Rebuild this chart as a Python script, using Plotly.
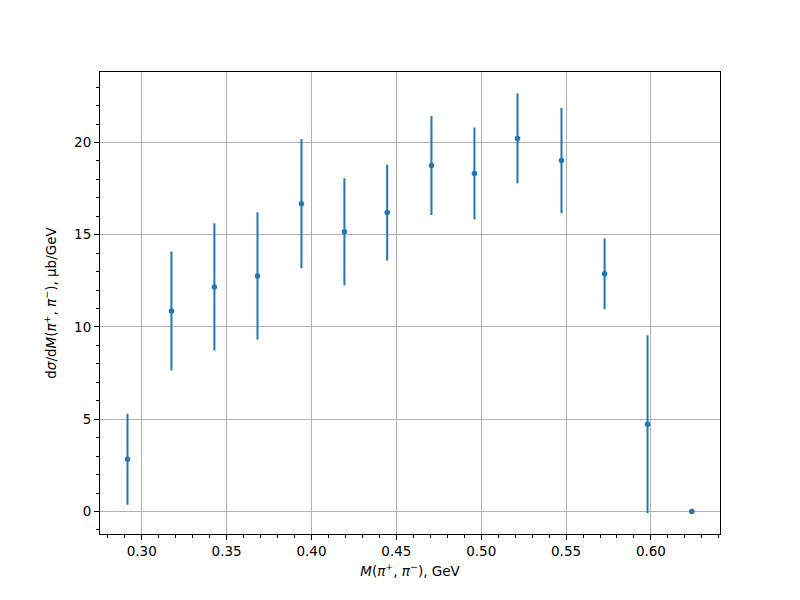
import plotly.graph_objects as go

mass = [0.2916, 0.3175, 0.3428, 0.3682, 0.3941, 0.4194, 0.4446,
        0.4707, 0.4960, 0.5214, 0.5473, 0.5727, 0.5980, 0.6241]
xsec = [2.83, 10.87, 12.17, 12.77, 16.68, 15.16, 16.20,
        18.75, 18.32, 20.22, 19.02, 12.88, 4.73, 0.0]
err = [2.47, 3.22, 3.45, 3.45, 3.50, 2.90, 2.60,
       2.68, 2.49, 2.44, 2.85, 1.92, 4.82, 0.0]

x_ticks = [0.30, 0.35, 0.40, 0.45, 0.50, 0.55, 0.60]
y_ticks = [0, 5, 10, 15, 20]

color = "#1f77b4"
font = dict(family="DejaVu Sans", size=13.5, color="black")

fig = go.Figure()
fig.add_trace(go.Scatter(
    x=mass, y=xsec, mode="markers",
    marker=dict(color=color, size=5.5),
    error_y=dict(type="data", array=err, visible=True, color=color,
                 thickness=2, width=0),
    showlegend=False,
))

axis_common = dict(
    showline=True, linecolor="black", linewidth=1, mirror=True,
    ticks="outside", ticklen=5, tickwidth=1, tickcolor="black",
    showgrid=True, gridcolor="#b0b0b0", gridwidth=1,
    zeroline=False, tickfont=font, automargin=False,
)

fig.update_xaxes(
    range=[0.2754, 0.6407], tickvals=x_ticks,
    ticktext=[f"{v:.2f}" for v in x_ticks],
    minor=dict(dtick=0.01, tick0=0.0, ticks="outside", ticklen=3,
               tickcolor="black", showgrid=False),
    title=dict(text="<i>M</i>(<i>π</i><sup>+</sup>, <i>π</i><sup>−</sup>), GeV",
               font=font, standoff=8),
    **axis_common,
)
fig.update_yaxes(
    range=[-1.22, 23.82], tickvals=y_ticks,
    ticktext=[str(v) for v in y_ticks],
    minor=dict(dtick=1, tick0=0, ticks="outside", ticklen=3,
               tickcolor="black", showgrid=False),
    title=dict(text="d<i>σ</i>/d<i>M</i>(<i>π</i><sup>+</sup>, <i>π</i><sup>−</sup>), μb/GeV",
               font=font, standoff=14),
    **axis_common,
)

fig.update_layout(
    width=800, height=600,
    margin=dict(l=92, r=88, t=64, b=74),
    plot_bgcolor="white", paper_bgcolor="white",
    font=font,
)

fig.write_html("out.html")
